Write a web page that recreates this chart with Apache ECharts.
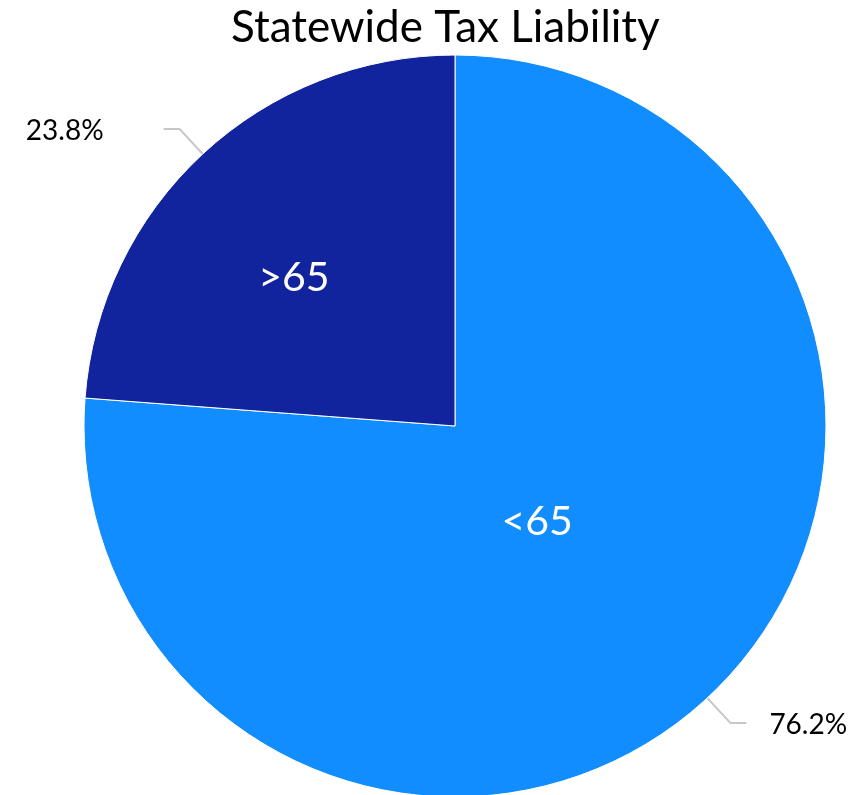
<!DOCTYPE html>
<html>
<head>
<meta charset="utf-8">
<script src="https://cdn.jsdelivr.net/npm/echarts@6/dist/echarts.min.js"></script>
<style>
  html, body { margin: 0; padding: 0; background: #fff; }
  #chart { width: 859px; height: 795px; }
</style>
</head>
<body>
<div id="chart"></div>
<script>
// Share of statewide tax liability by age group
const categories = ['<65', '>65'];
const shares = [76.2, 23.8];
const sliceColors = ['#118DFF', '#12239E'];

const FONT = 'Lato, "Open Sans", sans-serif';
const center = [455, 426];
const radius = 371;

const pieData = categories.map((name, i) => ({
  name: name,
  value: shares[i],
  itemStyle: { color: sliceColors[i] }
}));

const chart = echarts.init(document.getElementById('chart'), null, { renderer: 'canvas' });

chart.setOption({
  animation: false,
  title: {
    text: 'Statewide Tax Liability',
    left: 226,
    top: 1,
    textStyle: { fontFamily: FONT, fontSize: 44, fontWeight: 'normal', color: '#000' }
  },
  series: [
    {
      // colored slices with the group name inside
      type: 'pie',
      center: center,
      radius: radius,
      startAngle: 90,
      clockwise: true,
      avoidLabelOverlap: false,
      silent: true,
      data: pieData,
      itemStyle: { borderColor: '#ffffff', borderWidth: 1 },
      label: {
        show: true,
        position: 'inside',
        formatter: '{b}',
        color: '#fff',
        fontFamily: FONT,
        fontSize: 41
      },
      labelLine: { show: false },
      labelLayout: function (p) {
        return p.dataIndex === 0 ? { dx: -46, dy: -42 } : { dx: -33, dy: -10 };
      }
    },
    {
      // transparent overlay carrying the percentage call-outs
      type: 'pie',
      center: center,
      radius: radius,
      startAngle: 90,
      clockwise: true,
      avoidLabelOverlap: false,
      silent: true,
      data: pieData.map(d => ({ name: d.name, value: d.value })),
      itemStyle: { color: 'rgba(0,0,0,0)' },
      label: {
        show: true,
        position: 'outside',
        formatter: p => p.value.toFixed(1) + '%',
        color: '#000',
        fontFamily: FONT,
        fontSize: 28,
        distanceToLabelLine: 18
      },
      labelLine: {
        show: true,
        length: 34,
        length2: 16,
        lineStyle: { color: '#c8c8c8', width: 2 }
      },
      labelLayout: function (p) {
        return p.dataIndex === 1 ? { dx: -42, dy: 2 } : { dx: 5, dy: 2 };
      }
    }
  ]
});
</script>
</body>
</html>
